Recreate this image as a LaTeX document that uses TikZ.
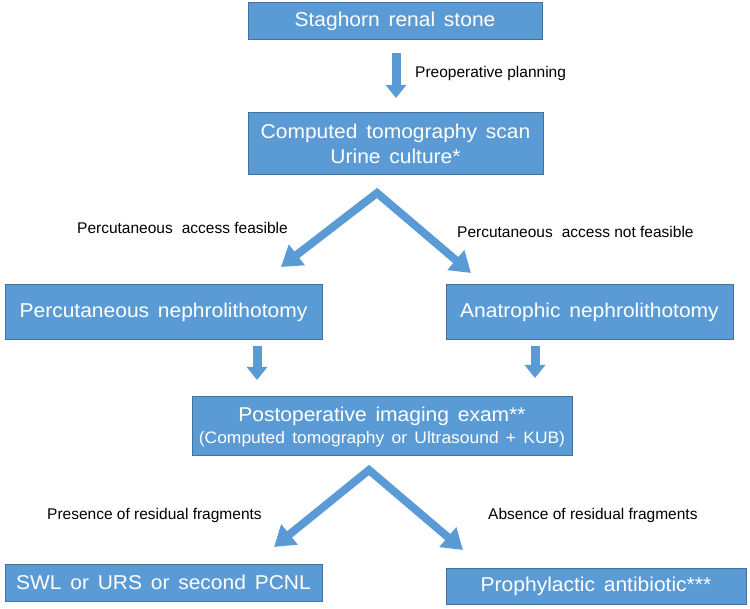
\documentclass[tikz,border=0pt]{standalone}
\usepackage{fontspec}
\setmainfont{Liberation Sans}
\newfontfamily\boxfont[FakeStretch=1.05,WordSpace=1.5]{Liberation Sans}
\usetikzlibrary{arrows.meta}
\definecolor{boxblue}{HTML}{5B9BD5}
\definecolor{boxedge}{HTML}{41719C}
\tikzset{
  box/.style={rectangle, fill=boxblue, draw=boxedge, line width=1pt, text=white, align=center, inner sep=0pt,
    font=\boxfont\fontsize{20}{25}\selectfont},
  lbl/.style={anchor=west, inner sep=0pt, text=black, font=\fontsize{15.5}{18}\selectfont},
  downarrow/.style={draw=boxblue, line width=9pt, -{Triangle[width=20pt,length=13pt]}},
  bigarrow/.style={draw=boxblue, line width=8pt, line join=miter, {Triangle[width=25pt,length=20pt]}-{Triangle[width=25pt,length=20pt]}}
}
\begin{document}
\begin{tikzpicture}[x=1pt,y=-1pt]
\useasboundingbox (0,0) rectangle (750,609);
% boxes
\node[box, minimum width=294pt, minimum height=37pt] (b1) at (395,21) {Staghorn renal stone};
\node[box, minimum width=295pt, minimum height=62pt] (b2) at (395.5,144) {Computed tomography scan\\Urine culture*};
\node[box, minimum width=317pt, minimum height=55pt] (b3l) at (163.5,312.5) {Percutaneous nephrolithotomy};
\node[box, minimum width=287pt, minimum height=55pt] (b3r) at (589.5,312.5) {Anatrophic nephrolithotomy};
\node[box, minimum width=380pt, minimum height=59pt] (b4) at (382,426.5) {Postoperative imaging exam**\\[-3pt]{\fontsize{16.6}{21}\selectfont (Computed tomography or Ultrasound + KUB)}};
\node[box, minimum width=317pt, minimum height=37pt] (b5l) at (163.5,582.5) {SWL or URS or second PCNL};
\node[box, minimum width=300pt, minimum height=36pt] (b5r) at (596,586) {Prophylactic antibiotic***};
% coordinates for arrows
\coordinate (a1s) at (396,53);
\coordinate (a1e) at (396,98);
\coordinate (a2s) at (257,346);
\coordinate (a2e) at (257,380);
\coordinate (a3s) at (535,346);
\coordinate (a3e) at (535,378);
\coordinate (c1l) at (281,267);
\coordinate (c1a) at (377,193);
\coordinate (c1r) at (471,273);
\coordinate (c2l) at (274,547);
\coordinate (c2a) at (369,470);
\coordinate (c2r) at (463,550);
% arrows
\draw[downarrow] (a1s) -- (a1e);
\draw[downarrow] (a2s) -- (a2e);
\draw[downarrow] (a3s) -- (a3e);
\draw[bigarrow] (c1l) -- (c1a) -- (c1r);
\draw[bigarrow] (c2l) -- (c2a) -- (c2r);
% labels
\node[lbl] (l1) at (415,73) {Preoperative planning};
\node[lbl] (l2) at (77,228) {Percutaneous\hspace{0.3em} access feasible};
\node[lbl] (l3) at (457,232) {Percutaneous\hspace{0.3em} access not feasible};
\node[lbl] (l4) at (47,515) {Presence of residual fragments};
\node[lbl] (l5) at (488,515) {Absence of residual fragments};
\end{tikzpicture}
\end{document}
